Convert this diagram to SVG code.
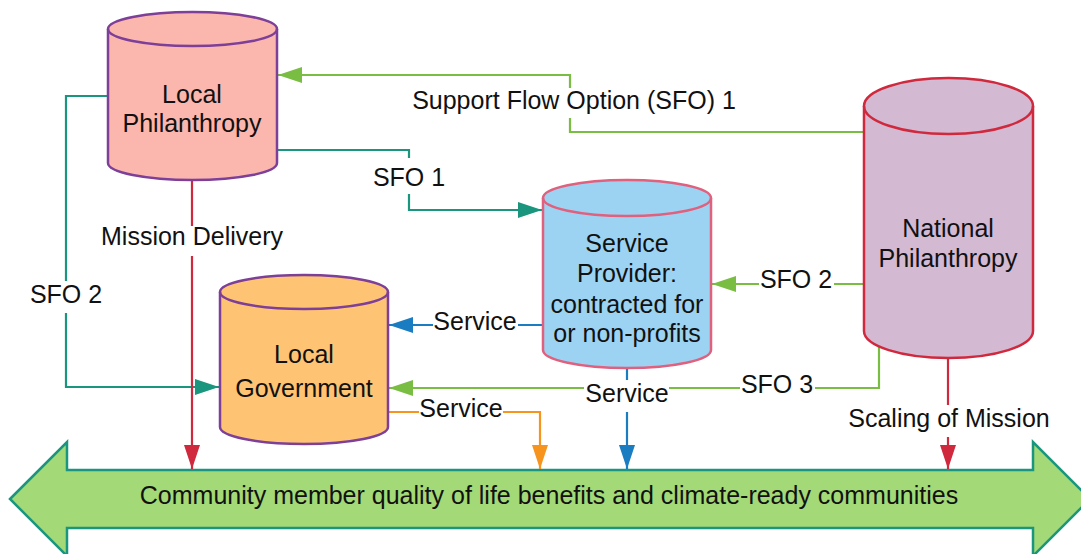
<svg xmlns="http://www.w3.org/2000/svg" width="1081" height="554" viewBox="0 0 1081 554">
  <style>
    text { font-family: "Liberation Sans", Arial, sans-serif; font-size: 25px; fill: #111; text-anchor: middle; }
    .cyl { stroke-width: 2.5; }
    .ln { fill: none; stroke-width: 2.2; }
    .green { stroke: #79bd42; }
    .teal { stroke: #19967d; }
    .red { stroke: #d0293d; }
    .blue { stroke: #1b7dc1; }
    .orange { stroke: #f7941d; }
    .bg { fill: #ffffff; }
  </style>
  <defs>
    <marker id="ah-green" markerUnits="userSpaceOnUse" markerWidth="24" markerHeight="16" refX="24" refY="8" orient="auto">
      <path d="M0,0 L24,8 L0,16 z" fill="#79bd42"/>
    </marker>
    <marker id="ah-teal" markerUnits="userSpaceOnUse" markerWidth="24" markerHeight="16" refX="24" refY="8" orient="auto">
      <path d="M0,0 L24,8 L0,16 z" fill="#19967d"/>
    </marker>
    <marker id="ah-red" markerUnits="userSpaceOnUse" markerWidth="24" markerHeight="16" refX="24" refY="8" orient="auto">
      <path d="M0,0 L24,8 L0,16 z" fill="#d0293d"/>
    </marker>
    <marker id="ah-blue" markerUnits="userSpaceOnUse" markerWidth="24" markerHeight="16" refX="24" refY="8" orient="auto">
      <path d="M0,0 L24,8 L0,16 z" fill="#1b7dc1"/>
    </marker>
    <marker id="ah-orange" markerUnits="userSpaceOnUse" markerWidth="24" markerHeight="16" refX="24" refY="8" orient="auto">
      <path d="M0,0 L24,8 L0,16 z" fill="#f7941d"/>
    </marker>
  </defs>

  <!-- outcome band: double-headed arrow -->
  <g id="outcome-band">
    <path d="M10,499 L67,442 L67,470 L1033,470 L1033,442 L1090,499 L1033,556 L1033,528 L67,528 L67,556 Z" fill="#a3d977" stroke="#19967d" stroke-width="2.5"/>
    <text x="549" y="504">Community member quality of life benefits and climate-ready communities</text>
  </g>

  <!-- connectors -->
  <g id="connectors">
    <!-- SFO 1 from national to local philanthropy -->
    <path class="ln green" d="M864,132 H570 V75 H278" marker-end="url(#ah-green)"/>
    <rect class="bg" x="408" y="88" width="334" height="30"/>
    <text x="574" y="109">Support Flow Option (SFO) 1</text>

    <!-- SFO 1 local philanthropy to service provider -->
    <path class="ln teal" d="M277,150 H409 V210 H542" marker-end="url(#ah-teal)"/>
    <rect class="bg" x="370" y="158" width="78" height="36"/>
    <text x="409" y="186">SFO 1</text>

    <!-- SFO 2 local philanthropy to local government -->
    <path class="ln teal" d="M108,96 H66 V387 H219" marker-end="url(#ah-teal)"/>
    <rect class="bg" x="28" y="281" width="78" height="32"/>
    <text x="66" y="303">SFO 2</text>

    <!-- mission delivery -->
    <path class="ln red" d="M192,180 V469" marker-end="url(#ah-red)"/>
    <rect class="bg" x="98" y="226" width="190" height="30"/>
    <text x="192" y="245">Mission Delivery</text>

    <!-- SFO 2 national to service provider -->
    <path class="ln green" d="M864,284 H712" marker-end="url(#ah-green)"/>
    <rect class="bg" x="759" y="270" width="75" height="28"/>
    <text x="796" y="288">SFO 2</text>

    <!-- SFO 3 national to local government -->
    <path class="ln green" d="M879,346 V388 H389" marker-end="url(#ah-green)"/>
    <rect class="bg" x="740" y="374" width="75" height="28"/>
    <text x="777" y="393">SFO 3</text>

    <!-- service provider to local government -->
    <path class="ln blue" d="M543,325 H389" marker-end="url(#ah-blue)"/>
    <rect class="bg" x="433" y="311" width="85" height="28"/>
    <text x="475" y="330">Service</text>

    <!-- service provider down to community -->
    <path class="ln blue" d="M627,368 V469" marker-end="url(#ah-blue)"/>
    <rect class="bg" x="584" y="380" width="85" height="32"/>
    <text x="627" y="402">Service</text>

    <!-- local government down to community -->
    <path class="ln orange" d="M388,412 H540 V469" marker-end="url(#ah-orange)"/>
    <rect class="bg" x="419" y="398" width="84" height="26"/>
    <text x="461" y="417">Service</text>

    <!-- scaling of mission -->
    <path class="ln red" d="M948,358 V469" marker-end="url(#ah-red)"/>
    <rect class="bg" x="846" y="405" width="206" height="32"/>
    <text x="949" y="427">Scaling of Mission</text>
  </g>

  <!-- nodes -->
  <g id="local-philanthropy">
    <path class="cyl" d="M108,29 A84.5,17 0 0 1 277,29 V163 A84.5,17 0 0 1 108,163 Z" fill="#fbb7ad" stroke="#7d3f98"/>
    <path class="cyl" d="M108,29 A84.5,17 0 0 0 277,29" fill="none" stroke="#7d3f98"/>
    <text x="192" y="103">Local</text>
    <text x="192" y="132">Philanthropy</text>
  </g>

  <g id="local-government">
    <path class="cyl" d="M220,292 A84,17 0 0 1 388,292 V427 A84,17 0 0 1 220,427 Z" fill="#ffc374" stroke="#7d3f98"/>
    <path class="cyl" d="M220,292 A84,17 0 0 0 388,292" fill="none" stroke="#7d3f98"/>
    <text x="304" y="363">Local</text>
    <text x="304" y="397">Government</text>
  </g>

  <g id="service-provider">
    <path class="cyl" d="M543,198 A84,18 0 0 1 711,198 V350 A84,18 0 0 1 543,350 Z" fill="#9cd3f2" stroke="#e0607e"/>
    <path class="cyl" d="M543,198 A84,18 0 0 0 711,198" fill="none" stroke="#e0607e"/>
    <text x="627" y="252">Service</text>
    <text x="627" y="282">Provider:</text>
    <text x="627" y="313">contracted for</text>
    <text x="627" y="342">or non-profits</text>
  </g>

  <g id="national-philanthropy">
    <path class="cyl" d="M864,106 A84.5,28 0 0 1 1033,106 V331 A84.5,27 0 0 1 864,331 Z" fill="#d4b9d2" stroke="#d0293d"/>
    <path class="cyl" d="M864,106 A84.5,28 0 0 0 1033,106" fill="none" stroke="#d0293d"/>
    <text x="948" y="237">National</text>
    <text x="948" y="267">Philanthropy</text>
  </g>
</svg>
